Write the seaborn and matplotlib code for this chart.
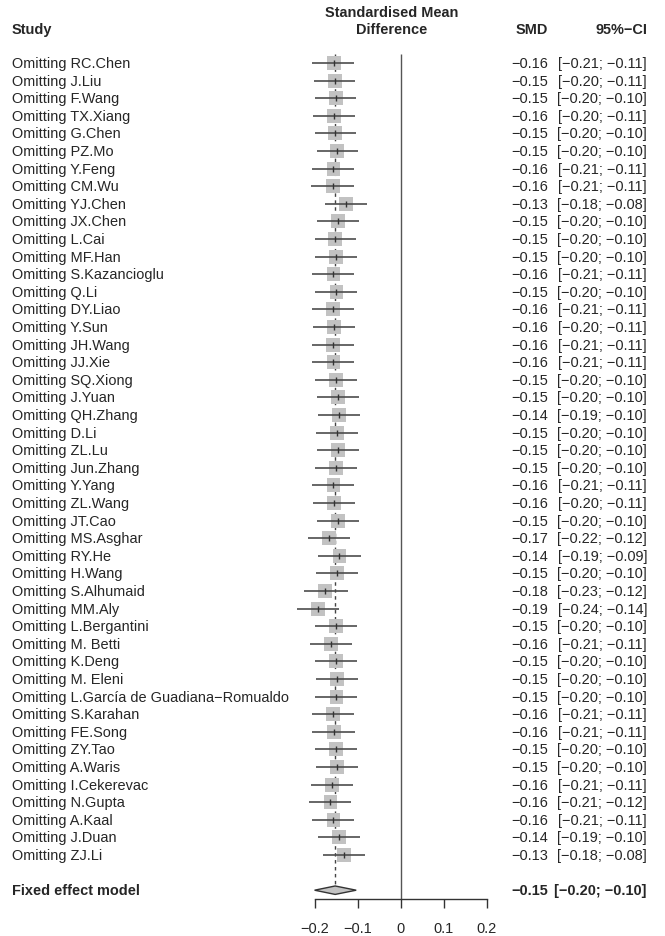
import numpy as np
import pandas as pd
import matplotlib
matplotlib.use("Agg")
import matplotlib.pyplot as plt
import matplotlib.transforms as mtransforms
from matplotlib.patches import Polygon
import seaborn as sns

# ---------------- data ----------------
studies = [
    "RC.Chen", "J.Liu", "F.Wang", "TX.Xiang", "G.Chen", "PZ.Mo", "Y.Feng", "CM.Wu",
    "YJ.Chen", "JX.Chen", "L.Cai", "MF.Han", "S.Kazancioglu", "Q.Li", "DY.Liao",
    "Y.Sun", "JH.Wang", "JJ.Xie", "SQ.Xiong", "J.Yuan", "QH.Zhang", "D.Li", "ZL.Lu",
    "Jun.Zhang", "Y.Yang", "ZL.Wang", "JT.Cao", "MS.Asghar", "RY.He", "H.Wang",
    "S.Alhumaid", "MM.Aly", "L.Bergantini", "M. Betti", "K.Deng", "M. Eleni",
    "L.García de Guadiana\u2212Romualdo", "S.Karahan", "FE.Song", "ZY.Tao", "A.Waris",
    "I.Cekerevac", "N.Gupta", "A.Kaal", "J.Duan", "ZJ.Li",
]
smd = [
    -0.156, -0.154, -0.152, -0.156, -0.153, -0.148, -0.157, -0.159, -0.128, -0.147,
    -0.153, -0.151, -0.157, -0.150, -0.159, -0.156, -0.159, -0.157, -0.151, -0.147,
    -0.144, -0.149, -0.147, -0.151, -0.157, -0.156, -0.147, -0.168, -0.143, -0.149,
    -0.176, -0.192, -0.151, -0.162, -0.152, -0.148, -0.150, -0.158, -0.156, -0.151,
    -0.148, -0.160, -0.164, -0.157, -0.144, -0.132,
]
ci_lower = [
    -0.206, -0.202, -0.200, -0.204, -0.201, -0.196, -0.207, -0.209, -0.177, -0.196,
    -0.201, -0.200, -0.206, -0.199, -0.208, -0.204, -0.208, -0.206, -0.200, -0.196,
    -0.193, -0.198, -0.196, -0.200, -0.206, -0.204, -0.196, -0.217, -0.192, -0.198,
    -0.226, -0.242, -0.200, -0.211, -0.200, -0.197, -0.199, -0.207, -0.206, -0.200,
    -0.197, -0.209, -0.213, -0.206, -0.193, -0.181,
]
ci_upper = [
    -0.108, -0.106, -0.104, -0.107, -0.104, -0.100, -0.108, -0.110, -0.078, -0.098,
    -0.104, -0.102, -0.108, -0.101, -0.110, -0.107, -0.110, -0.108, -0.102, -0.098,
    -0.096, -0.100, -0.098, -0.102, -0.108, -0.107, -0.098, -0.119, -0.094, -0.100,
    -0.124, -0.143, -0.102, -0.113, -0.103, -0.099, -0.101, -0.109, -0.107, -0.102,
    -0.099, -0.111, -0.116, -0.108, -0.096, -0.083,
]
fixed_smd = -0.153
fixed_lower = -0.201
fixed_upper = -0.104
x_ticks = [-0.2, -0.1, 0, 0.1, 0.2]
x_tick_labels = ["\u22120.2", "\u22120.1", "0", "0.1", "0.2"]

# ---------------- style ----------------
sns.set_theme(style="white")
plt.rcParams["font.family"] = ["Liberation Sans", "DejaVu Sans"]
FS = 10.45

W, H = 665, 937
fig = plt.figure(figsize=(W / 100, H / 100), dpi=100)

n = len(studies)
fixed_row = n + 1
y_top, y_bottom = -0.5, fixed_row + 0.5
# axes: x -0.2..0.2 -> px 315..486.7 ; y rows -> px 55.2..900
ax = fig.add_axes([315 / W, 1 - 900 / H, (486.7 - 315) / W, (900 - 55.2) / H])
ax.set_xlim(-0.2, 0.2)
ax.set_ylim(y_bottom, y_top)

df = pd.DataFrame({"study": studies, "smd": smd, "lower": ci_lower,
                   "upper": ci_upper, "row": np.arange(n)})

# squares
sns.scatterplot(data=df, x="smd", y="row", marker="s", s=100, color="#C2C2C2",
                edgecolor="none", linewidth=0, ax=ax, zorder=2, legend=False,
                clip_on=False)
# CI lines
ax.hlines(df["row"], df["lower"], df["upper"], color="#4d4d4d", lw=1.2, zorder=3,
          clip_on=False)
# estimate ticks
ax.vlines(df["smd"], df["row"] - 0.17, df["row"] + 0.17, color="#333333", lw=1.0,
          zorder=4, clip_on=False)

# zero line
ax.vlines(0, y_top, y_bottom, color="#555555", lw=1.0, zorder=1, clip_on=False)
# fixed effect dashed line
ax.vlines(fixed_smd, y_top, fixed_row - 0.25, color="#444444", lw=1.0,
          linestyles=(0, (2.5, 2.5)), zorder=1, clip_on=False)
# diamond
dh = 0.24
diamond = Polygon([(fixed_lower, fixed_row), (fixed_smd, fixed_row - dh),
                   (fixed_upper, fixed_row), (fixed_smd, fixed_row + dh)],
                  closed=True, facecolor="#C2C2C2", edgecolor="#333333", lw=1.0,
                  zorder=3, clip_on=False)
ax.add_patch(diamond)

# axis
for s in ["left", "right", "top"]:
    ax.spines[s].set_visible(False)
ax.spines["bottom"].set_color("#333333")
ax.spines["bottom"].set_linewidth(1.0)
ax.set_xticks(x_ticks)
ax.set_xticklabels(x_tick_labels, fontsize=FS)
ax.set_yticks([])
ax.tick_params(axis="x", direction="out", length=6.5, width=1.0, color="#333333",
               pad=9, bottom=True)
ax.set_xlabel("")
ax.set_ylabel("")
ax.grid(False)

# ---------------- text columns ----------------
trans = mtransforms.blended_transform_factory(fig.transFigure, ax.transData)

def fx(px):
    return px / W

def fmt(v):
    return f"{v:.2f}".replace("-", "\u2212")

for i, name in enumerate(studies):
    ax.text(fx(12), i, "Omitting " + name, transform=trans, ha="left", va="center",
            fontsize=FS, clip_on=False)
    ax.text(fx(548), i, fmt(smd[i]), transform=trans, ha="right", va="center",
            fontsize=FS, clip_on=False)
    ax.text(fx(647), i, f"[{fmt(ci_lower[i])}; {fmt(ci_upper[i])}]", transform=trans,
            ha="right", va="center", fontsize=FS, clip_on=False)

ax.text(fx(12), fixed_row, "Fixed effect model", transform=trans, ha="left", va="center",
        fontsize=FS, fontweight="bold", clip_on=False)
ax.text(fx(548), fixed_row, fmt(fixed_smd), transform=trans, ha="right", va="center",
        fontsize=FS, fontweight="bold", clip_on=False)
ax.text(fx(647), fixed_row, f"[{fmt(fixed_lower)}; {fmt(fixed_upper)}]", transform=trans,
        ha="right", va="center", fontsize=FS, fontweight="bold", clip_on=False)

# headers
hdr_row = (30 - 64) / 17.6
hdr_row2 = (13 - 64) / 17.6
ax.text(fx(12), hdr_row, "Study", transform=trans, ha="left", va="center",
        fontsize=FS, fontweight="bold", clip_on=False)
ax.text(fx(392), hdr_row2, "Standardised Mean", transform=trans, ha="center", va="center",
        fontsize=FS, fontweight="bold", clip_on=False)
ax.text(fx(392), hdr_row, "Difference", transform=trans, ha="center", va="center",
        fontsize=FS, fontweight="bold", clip_on=False)
ax.text(fx(548), hdr_row, "SMD", transform=trans, ha="right", va="center",
        fontsize=FS, fontweight="bold", clip_on=False)
ax.text(fx(647), hdr_row, "95%\u2212CI", transform=trans, ha="right", va="center",
        fontsize=FS, fontweight="bold", clip_on=False)

fig.savefig("out.png", dpi=100, facecolor="white")
